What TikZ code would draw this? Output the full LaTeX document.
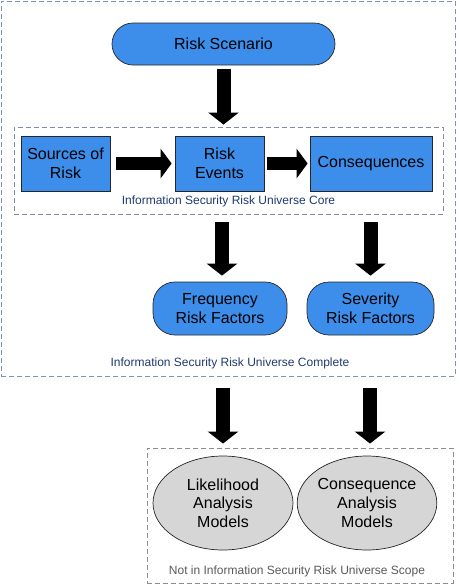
\documentclass[tikz,border=0pt]{standalone}
\usepackage{fontspec}
\setmainfont{Liberation Sans}
\usetikzlibrary{arrows.meta,shapes.misc,shapes.geometric}
\definecolor{nodeblue}{RGB}{60,142,234}
\definecolor{navy}{RGB}{30,58,110}
\definecolor{outerdash}{RGB}{128,148,186}
\definecolor{coredash}{RGB}{125,138,160}
\definecolor{botdash}{RGB}{140,140,140}
\definecolor{ellgrey}{RGB}{214,214,214}
\tikzset{
  big/.style={font=\fontsize{16}{18.7}\selectfont, align=center, text=black},
  bluebox/.style={big, draw=black!85, line width=0.7pt, fill=nodeblue, inner sep=0pt},
  greyell/.style={big, ellipse, draw=black!85, line width=0.7pt, fill=ellgrey, inner sep=0pt},
  dashbox/.style={draw, line width=0.9pt, dash pattern=on 5pt off 3pt, inner sep=0pt},
  lbl/.style={font=\fontsize{12}{14}\selectfont, inner sep=0pt},
  bigarrow/.style={draw=black, line width=14pt, -{Triangle[length=12pt,width=30pt]}},
  harrow/.style={draw=black, line width=13pt, -{Triangle[length=11pt,width=29pt]}}
}
\begin{document}
\begin{tikzpicture}[x=1pt,y=-1pt]
\useasboundingbox (0,0) rectangle (459,584);
% containers
\node[dashbox, draw=outerdash, minimum width=454pt, minimum height=375pt] (outer) at (228,188.5) {};
\node[dashbox, draw=coredash, minimum width=429pt, minimum height=87pt] (core) at (228.5,170.5) {};
\node[dashbox, draw=botdash, minimum width=306pt, minimum height=135pt] (bottom) at (300,515.5) {};
\node[lbl, text=navy] (corelbl) at (228.5,201) {Information Security Risk Universe Core};
\node[lbl, text=navy] (outerlbl) at (230,363) {Information Security Risk Universe Complete};
\node[lbl, text=black!65] (botlbl) at (297,571) {Not in Information Security Risk Universe Scope};
% nodes
\node[bluebox, rounded rectangle, minimum width=223pt, minimum height=42pt] (scen) at (223.5,44) {Risk Scenario};
\node[bluebox, minimum width=89pt, minimum height=55pt] (sources) at (65.5,163.5) {Sources of\\Risk};
\node[bluebox, minimum width=89pt, minimum height=55pt] (events) at (219.5,163.5) {Risk\\Events};
\node[bluebox, minimum width=122pt, minimum height=55pt] (cons) at (371,163.5) {Consequences};
\node[bluebox, rounded corners=22pt, minimum width=134pt, minimum height=53pt] (freq) at (220,308.5) {Frequency\\Risk Factors};
\node[bluebox, rounded corners=22pt, minimum width=127pt, minimum height=53pt] (sev) at (370.5,308.5) {Severity\\Risk Factors};
\node[greyell, minimum width=140pt, minimum height=94pt] (lik) at (223,503) {Likelihood\\Analysis\\Models};
\node[greyell, minimum width=132pt, minimum height=94pt] (cmod) at (367,503) {Consequence\\Analysis\\Models};
% arrows
\draw[bigarrow] ([yshift=-4pt]scen.south) -- ([yshift=2pt]scen.south |- core.north);
\draw[harrow] ([xshift=6pt]sources.east) -- ([xshift=-3pt]events.west);
\draw[harrow] ([xshift=3pt]events.east) -- ([xshift=-2pt]cons.west);
\draw[bigarrow] ([xshift=2pt,yshift=-8pt]freq.north |- core.south) -- ([xshift=2pt,yshift=6pt]freq.north);
\draw[bigarrow] ([yshift=-8pt]sev.north |- core.south) -- ([yshift=6pt]sev.north);
\draw[bigarrow] ([yshift=-12pt]lik.north |- outer.south) -- ([yshift=4pt]lik.north |- bottom.north);
\draw[bigarrow] ([xshift=3pt,yshift=-12pt]cmod.north |- outer.south) -- ([xshift=3pt,yshift=4pt]cmod.north |- bottom.north);
\end{tikzpicture}
\end{document}
